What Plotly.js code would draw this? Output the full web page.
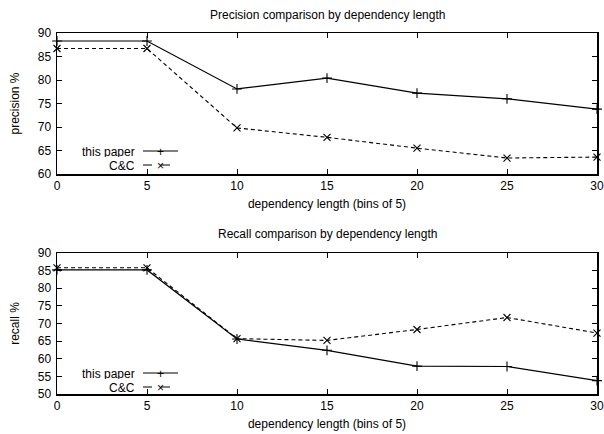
<!DOCTYPE html>
<html>
<head>
<meta charset="utf-8">
<script src="https://cdn.plot.ly/plotly-3.0.1.min.js"></script>
<style>html,body{margin:0;padding:0;background:#fff;}#chart{width:604px;height:434px;}</style>
</head>
<body>
<div id="chart"></div>
<script>
const depLength = [0, 5, 10, 15, 20, 25, 30];
const precisionThisPaper = [88.3, 88.3, 78.1, 80.4, 77.2, 76.0, 73.8];
const precisionCC = [86.7, 86.7, 69.8, 67.8, 65.5, 63.4, 63.6];
const recallThisPaper = [85.2, 85.2, 65.6, 62.4, 57.9, 57.8, 53.8];
const recallCC = [85.8, 85.8, 65.7, 65.2, 68.3, 71.7, 67.3];
const seriesNames = ['this paper', 'C&C'];
const xTicks = [0, 5, 10, 15, 20, 25, 30];
const precisionTicks = [60, 65, 70, 75, 80, 85, 90];
const recallTicks = [50, 55, 60, 65, 70, 75, 80, 85, 90];

const W = 604, H = 434;
const FONT = {family: 'Liberation Sans, Arial, sans-serif', size: 12, color: '#000'};
const py = p => 1 - p / H; // pixel row -> paper y
const px = p => (p - 57) / 540; // pixel col -> paper x (plot area)

const solid = {color: '#000', width: 1.2};
const dashed = {color: '#000', width: 1.1, dash: '4px,3px'};

function tr(x, y, name, xa, ya, line, symbol) {
  return {x: x, y: y, name: name, xaxis: xa, yaxis: ya, type: 'scatter', mode: 'lines+markers',
    line: line, marker: {symbol: symbol, size: 7, color: '#000', line: {color: '#000', width: 1.1}},
    showlegend: false, hoverinfo: 'skip', cliponaxis: false};
}

const data = [
  tr(depLength, precisionThisPaper, seriesNames[0], 'x', 'y', solid, 'cross-thin-open'),
  tr(depLength, precisionCC, seriesNames[1], 'x', 'y', dashed, 'x-thin-open'),
  tr(depLength, recallThisPaper, seriesNames[0], 'x2', 'y2', solid, 'cross-thin-open'),
  tr(depLength, recallCC, seriesNames[1], 'x2', 'y2', dashed, 'x-thin-open')
];

function xaxis(anchor) {
  return {anchor: anchor, range: [0, 30], tickvals: xTicks, ticks: 'inside', ticklen: 5, tickwidth: 1,
    tickcolor: '#000', showline: true, linecolor: '#000', linewidth: 1.5, mirror: 'ticks',
    showgrid: false, zeroline: false, tickfont: FONT, automargin: false,
    title: {text: 'dependency length (bins of 5)', font: FONT, standoff: 7}};
}
function yaxis(anchor, range, ticks, domain, label) {
  return {anchor: anchor, range: range, tickvals: ticks, domain: domain, ticks: 'inside', ticklen: 5, tickwidth: 1,
    tickcolor: '#000', showline: true, linecolor: '#000', linewidth: 1.5, mirror: 'ticks',
    showgrid: false, zeroline: false, tickfont: FONT, automargin: false,
    ticklabelstandoff: 2,
    title: {text: label, font: FONT, standoff: 15}};
}

// legend (gnuplot style: text, then key sample)
function legendItems(rows) {
  const shapes = [], ann = [];
  rows.forEach(r => {
    shapes.push({type: 'line', xref: 'paper', yref: 'paper', x0: px(143), x1: px(178), y0: py(r.y), y1: py(r.y),
      line: {color: '#000', width: r.dash ? 1.1 : 1.2, dash: r.dash ? 'dash' : 'solid'}});
    ann.push({xref: 'paper', yref: 'paper', x: px(136), y: py(r.y), xanchor: 'right', yanchor: 'middle',
      text: r.text, showarrow: false, font: FONT, height: 11, borderpad: 0});
    ann.push({xref: 'paper', yref: 'paper', x: px(160.5), y: py(r.y), xanchor: 'center', yanchor: 'middle',
      text: r.sym, showarrow: false, font: FONT, height: 11, borderpad: 0});
  });
  return {shapes, ann};
}
const lg1 = legendItems([{y: 151, text: seriesNames[0], sym: '+', dash: false}, {y: 165, text: seriesNames[1], sym: '×', dash: true}]);
const lg2 = legendItems([{y: 373, text: seriesNames[0], sym: '+', dash: false}, {y: 387, text: seriesNames[1], sym: '×', dash: true}]);

const layout = {
  width: W, height: H,
  margin: {l: 57, r: 7, t: 0, b: 0, pad: 0},
  paper_bgcolor: '#fff', plot_bgcolor: '#fff',
  font: FONT,
  showlegend: false,
  xaxis: xaxis('y'),
  yaxis: yaxis('x', [60, 90], precisionTicks, [py(174), py(33)], 'precision %'),
  xaxis2: xaxis('y2'),
  yaxis2: yaxis('x2', [50, 90], recallTicks, [py(394), py(253)], 'recall %'),
  annotations: [
    {xref: 'paper', yref: 'paper', x: 0.5, y: py(15), xanchor: 'center', yanchor: 'middle',
     text: 'Precision comparison by dependency length', showarrow: false, font: FONT},
    {xref: 'paper', yref: 'paper', x: 0.5, y: py(234), xanchor: 'center', yanchor: 'middle',
     text: 'Recall comparison by dependency length', showarrow: false, font: FONT}
  ].concat(lg1.ann, lg2.ann),
  shapes: lg1.shapes.concat(lg2.shapes)
};

Plotly.newPlot('chart', data, layout, {staticPlot: true, displayModeBar: false});
</script>
</body>
</html>
